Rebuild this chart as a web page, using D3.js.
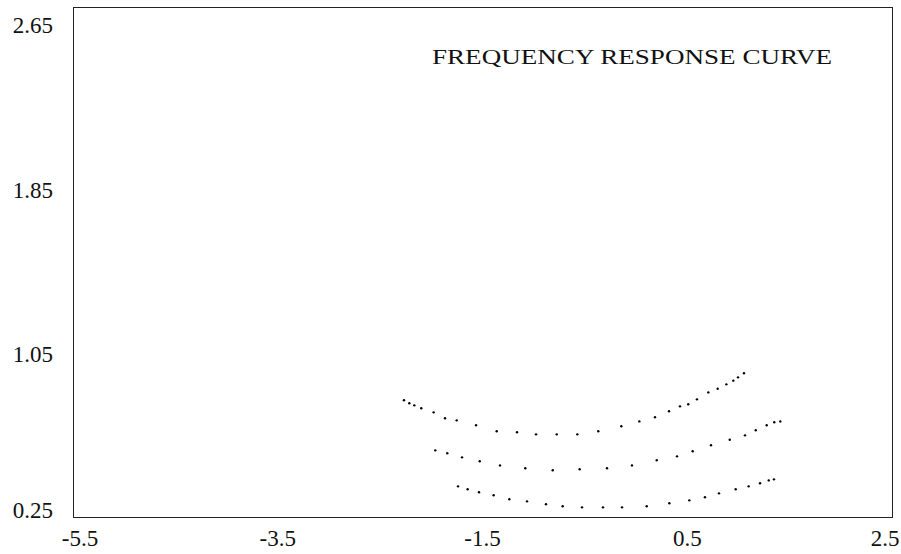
<!DOCTYPE html>
<html>
<head>
<meta charset="utf-8">
<script src="https://cdn.jsdelivr.net/npm/d3@7"></script>
<style>
  html, body { margin: 0; padding: 0; background: #fff; }
  svg { display: block; }
  text { font-family: "Liberation Serif", "DejaVu Serif", serif; fill: #111; }
</style>
</head>
<body>
<svg id="chart" width="901" height="554"></svg>
<script>
// ---- data ----
const title = "FREQUENCY RESPONSE CURVE";
const xTicks = [-5.5, -3.5, -1.5, 0.5, 2.5];
const yTicks = [0.25, 1.05, 1.85, 2.65];

const upperX = [-2.267, -2.215, -2.166, -2.098, -1.977, -1.866, -1.752, -1.563, -1.361, -1.163, -0.977, -0.775, -0.574, -0.369, -0.144, 0.032, 0.185, 0.322, 0.429, 0.510, 0.595, 0.706, 0.797, 0.882, 0.950, 0.996, 1.054];
const upperY = [0.818, 0.803, 0.793, 0.779, 0.759, 0.730, 0.720, 0.696, 0.667, 0.662, 0.652, 0.652, 0.652, 0.667, 0.691, 0.715, 0.735, 0.764, 0.788, 0.798, 0.822, 0.856, 0.874, 0.895, 0.913, 0.929, 0.949];

const middleX = [-1.961, -1.844, -1.700, -1.527, -1.329, -1.082, -0.814, -0.551, -0.284, -0.040, 0.202, 0.400, 0.553, 0.732, 0.915, 1.064, 1.169, 1.276, 1.350, 1.409];
const middleY = [0.574, 0.560, 0.540, 0.521, 0.501, 0.487, 0.477, 0.482, 0.487, 0.501, 0.526, 0.545, 0.570, 0.599, 0.626, 0.647, 0.672, 0.696, 0.711, 0.715];

const lowerX = [-1.739, -1.645, -1.534, -1.391, -1.238, -1.065, -0.880, -0.717, -0.528, -0.323, -0.137, 0.104, 0.325, 0.520, 0.673, 0.810, 0.973, 1.100, 1.211, 1.296, 1.347];
const lowerY = [0.399, 0.385, 0.370, 0.356, 0.336, 0.326, 0.312, 0.302, 0.297, 0.297, 0.297, 0.302, 0.317, 0.331, 0.346, 0.365, 0.385, 0.399, 0.414, 0.428, 0.433];

const seriesList = [
  { xs: upperX, ys: upperY },
  { xs: middleX, ys: middleY },
  { xs: lowerX, ys: lowerY }
];

// ---- layout ----
const plotLeft = 73, plotRight = 892, plotTop = 7, plotBottom = 517;
const svg = d3.select("#chart");

const x = d3.scaleLinear().domain([-5.5, 2.5]).range([plotLeft, plotRight]);
const y = d3.scaleLinear().domain([0.25, 2.73]).range([plotBottom, plotTop]);

// frame
svg.append("rect")
  .attr("x", plotLeft + 0.5).attr("y", plotTop + 0.5)
  .attr("width", plotRight - plotLeft).attr("height", plotBottom - plotTop)
  .attr("fill", "none").attr("stroke", "#222").attr("stroke-width", 1);

// x tick labels
svg.append("g").selectAll("text").data(xTicks).join("text")
  .attr("x", (d, i) => x(d) + (i === 0 ? 7 : (i === xTicks.length - 1 ? -7 : 0)))
  .attr("y", 546)
  .attr("text-anchor", "middle")
  .attr("font-size", 23)
  .text(d => d3.format(".1f")(d).replace("−", "-"));

// y tick labels
svg.append("g").selectAll("text").data(yTicks).join("text")
  .attr("x", 53)
  .attr("y", (d, i) => y(d) + (i === 0 ? 1 : 10))
  .attr("text-anchor", "end")
  .attr("font-size", 23)
  .text(d => d3.format(".2f")(d));

// title
svg.append("text")
  .attr("x", 432).attr("y", 64)
  .attr("font-size", 21)
  .attr("textLength", 400)
  .attr("lengthAdjust", "spacingAndGlyphs")
  .text(title);

// points
const g = svg.append("g");
seriesList.forEach(s => {
  const pts = s.xs.map((v, i) => [v, s.ys[i]]);
  g.append("g").selectAll("circle").data(pts).join("circle")
    .attr("cx", d => x(d[0]))
    .attr("cy", d => y(d[1]))
    .attr("r", 1.2)
    .attr("fill", "#000");
});
</script>
</body>
</html>
